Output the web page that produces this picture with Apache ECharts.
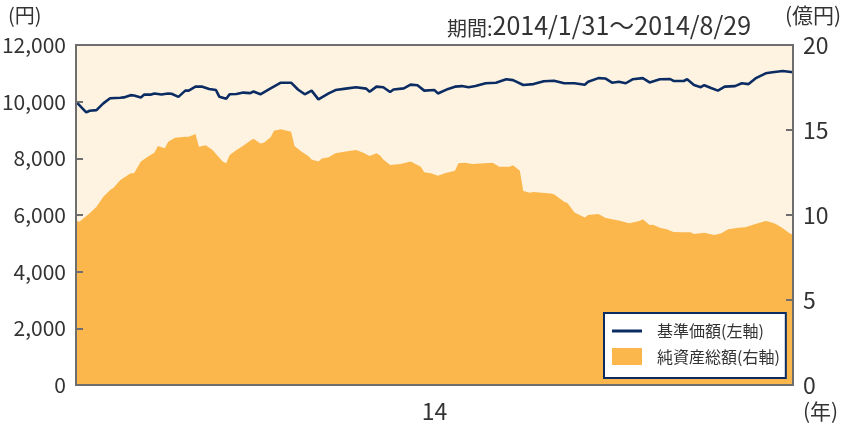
<!DOCTYPE html>
<html>
<head>
<meta charset="utf-8">
<script src="https://cdn.jsdelivr.net/npm/echarts@6/dist/echarts.min.js"></script>
<style>
html,body{margin:0;padding:0;background:#fff;}
#chart{width:843px;height:427px;}
</style>
</head>
<body>
<div id="chart"></div>
<script>
// Data (days since 2014/1/31)
const seriesNames = ['基準価額(左軸)', '純資産総額(右軸)'];
const periodLabel = '期間:';
const periodRange = '2014/1/31～2014/8/29';
const leftTicks = [0, 2000, 4000, 6000, 8000, 10000, 12000];
const rightTicks = [0, 5, 10, 15, 20];
const yearLabel = '14';

const lineDays = [0,3,4,6,8,10,13,14,16,17,19,20,22,23,25,27,28,30,32,33,35,37,39,41,42,44,45,47,49,51,52,54,57,60,63,65,67,69,71,74,76,79,82,85,86,88,90,92,93,96,98,100,102,105,106,109,111,113,115,117,120,123,126,128,131,134,137,140,143,146,149,150,153,155,157,159,161,163,166,168,171,174,175,178,179,181,183,184,186,188,190,193,195,197,199,202,204,207,210];
const lineValues = [10000,9620,9680,9700,9940,10120,10140,10150,10230,10220,10150,10250,10250,10290,10250,10290,10280,10170,10390,10390,10530,10530,10450,10410,10170,10100,10260,10270,10320,10300,10360,10260,10470,10670,10670,10430,10260,10390,10080,10290,10410,10460,10510,10460,10350,10530,10510,10340,10430,10470,10600,10580,10390,10410,10290,10450,10530,10550,10510,10550,10650,10670,10790,10760,10590,10620,10720,10740,10650,10650,10600,10700,10830,10820,10670,10700,10650,10790,10830,10680,10790,10800,10730,10730,10790,10590,10510,10580,10480,10390,10530,10550,10650,10620,10820,11000,11040,11080,11040];

const areaDays = [0,1,4,6,8,10,11,13,16,17,19,21,23,24,26,27,29,32,33,35,36,38,40,41,43,44,45,47,49,51,52,54,55,57,58,60,63,64,66,68,69,71,72,74,76,79,82,84,86,88,89,90,92,95,98,101,102,104,106,108,111,112,114,116,122,124,127,128,130,131,133,134,139,140,143,144,146,149,150,153,155,157,159,162,165,166,168,169,171,173,175,178,180,181,184,187,189,191,194,196,199,202,203,205,207,209,210];
const areaValues = [9.66,9.61,10.10,10.49,11.08,11.47,11.61,12.06,12.45,12.45,13.14,13.43,13.67,14.06,13.92,14.31,14.55,14.61,14.61,14.76,14.02,14.10,13.82,13.59,13.14,13.04,13.53,13.82,14.08,14.37,14.48,14.20,14.25,14.57,14.96,15.04,14.90,14.06,13.73,13.47,13.27,13.14,13.33,13.39,13.63,13.73,13.82,13.67,13.47,13.63,13.51,13.27,12.94,13.00,13.14,12.84,12.51,12.45,12.31,12.45,12.61,13.04,13.08,13.00,13.08,12.84,12.84,12.92,12.61,11.41,11.31,11.35,11.27,11.22,10.78,10.69,10.14,9.86,10.00,10.06,9.84,9.75,9.68,9.51,9.65,9.75,9.41,9.43,9.25,9.16,9.00,8.98,8.98,8.88,8.96,8.82,8.92,9.16,9.25,9.28,9.47,9.65,9.61,9.47,9.22,8.92,8.82];

const START = Date.UTC(2014, 0, 31);
const DAY = 86400000;
const t = d => START + d * DAY;

const FONT = '"Noto Sans CJK JP", "Noto Sans", sans-serif';
const NAVY = '#0b2c63';
const ORANGE = '#fcb74c';
const AXIS = '#6e6e6e';
const TXT = '#333333';

const chart = echarts.init(document.getElementById('chart'));
chart.setOption({
  animation: false,
  textStyle: { fontFamily: FONT },
  grid: {
    left: 76, right: 50, top: 45, bottom: 42,
    containLabel: false, outerBoundsMode: 'none',
    show: true, backgroundColor: '#fef3e1', borderColor: AXIS, borderWidth: 2
  },
  legend: {
    left: 604, top: 313, orient: 'vertical',
    backgroundColor: '#ffffff', borderColor: NAVY, borderWidth: 2,
    padding: [10, 6, 13, 8], itemGap: 9, itemWidth: 30, itemHeight: 17,
    textStyle: { fontFamily: FONT, fontSize: 16, color: TXT, padding: [0, 0, 0, 10] },
    data: [
      { name: seriesNames[0], icon: 'path://M0,7 L30,7 L30,10 L0,10 Z', itemStyle: { color: NAVY } },
      { name: seriesNames[1], icon: 'rect', itemStyle: { color: ORANGE } }
    ]
  },
  xAxis: {
    type: 'time', min: t(0), max: t(210), z: 10,
    axisLine: { show: true, lineStyle: { color: AXIS, width: 2 } },
    axisTick: { show: false }, axisLabel: { show: false }, splitLine: { show: false },
    name: yearLabel, nameLocation: 'middle', nameGap: 15,
    nameTextStyle: { fontFamily: FONT, fontSize: 23, color: TXT, verticalAlign: 'top' }
  },
  yAxis: [
    {
      type: 'value', min: leftTicks[0], max: leftTicks[leftTicks.length - 1],
      interval: leftTicks[1] - leftTicks[0], z: 10,
      axisLine: { show: true, lineStyle: { color: AXIS, width: 2 } },
      axisTick: { show: true, inside: true, length: 7, lineStyle: { color: AXIS, width: 2 } },
      splitLine: { show: false },
      axisLabel: {
        margin: 10, fontFamily: FONT, fontSize: 21, color: TXT,
        formatter: v => String(v).replace(/\B(?=(\d{3})+(?!\d))/g, ',')
      }
    },
    {
      type: 'value', min: rightTicks[0], max: rightTicks[rightTicks.length - 1],
      interval: rightTicks[1] - rightTicks[0], position: 'right', z: 10,
      axisLine: { show: true, lineStyle: { color: AXIS, width: 2 } },
      axisTick: { show: true, inside: true, length: 7, lineStyle: { color: AXIS, width: 2 } },
      splitLine: { show: false },
      axisLabel: { margin: 10, fontFamily: FONT, fontSize: 23, color: TXT }
    }
  ],
  graphic: [
    { type: 'text', left: 8, top: 5, style: { text: '(円)', fontFamily: FONT, fontSize: 20, fill: TXT } },
    { type: 'text', left: 785, top: 5, style: { text: '(億円)', fontFamily: FONT, fontSize: 21, fill: TXT } },
    { type: 'text', left: 447, top: 13, style: {
        text: '{a|' + periodLabel + '}{b|' + periodRange + '}',
        fill: TXT,
        rich: {
          a: { fontFamily: FONT, fontSize: 20, fill: TXT, verticalAlign: 'bottom' },
          b: { fontFamily: FONT, fontSize: 25, fill: TXT, verticalAlign: 'bottom' }
        }
    } },
    { type: 'text', left: 803, top: 401, style: { text: '(年)', fontFamily: FONT, fontSize: 21, fill: TXT } }
  ],
  series: [
    {
      name: seriesNames[1], type: 'line', yAxisIndex: 1, symbol: 'none', z: 1,
      itemStyle: { color: ORANGE },
      lineStyle: { width: 0, color: ORANGE },
      areaStyle: { color: ORANGE, opacity: 1 },
      data: areaDays.map((d, i) => [t(d), areaValues[i]])
    },
    {
      name: seriesNames[0], type: 'line', yAxisIndex: 0, symbol: 'none', z: 3,
      itemStyle: { color: NAVY },
      lineStyle: { width: 2.6, color: NAVY },
      data: lineDays.map((d, i) => [t(d), lineValues[i]])
    }
  ]
});
</script>
</body>
</html>
